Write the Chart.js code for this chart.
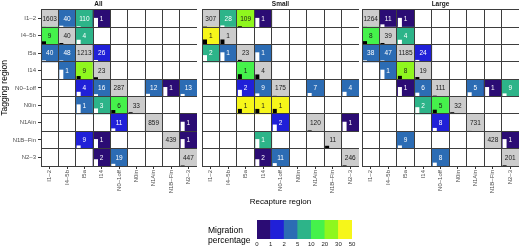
<!DOCTYPE html>
<html><head><meta charset="utf-8">
<script src="https://cdn.jsdelivr.net/npm/chart.js@4.4.1/dist/chart.umd.min.js"></script>
<style>
html,body{margin:0;padding:0;background:#fff}
body{width:520px;height:249px;position:relative;overflow:hidden;font-family:"Liberation Sans",Arial,sans-serif}
canvas{position:absolute;display:block}
#lt{position:absolute;left:208px;top:225px;font-size:8.5px;line-height:10px;color:#000;white-space:nowrap}
</style></head><body>
<canvas id="pAll" width="197" height="208" style="left:0;top:0"></canvas>
<canvas id="pSmall" width="157" height="208" style="left:202px;top:0"></canvas>
<canvas id="pLarge" width="157" height="208" style="left:362px;top:0"></canvas>
<canvas id="leg" width="112" height="35" style="left:250px;top:214px"></canvas>
<div id="lt">Migration<br>percentage</div>
<script>
// ---- data ----
const regions = ['I1–2','I4–5b','I5a','I14','N0–1off','N0in','N1Ain','N1B–Fin','N2–3'];
const panelTitles = ['All','Small','Large'];
// rows = tagging region, columns = recapture region (counts)
const countsAll = [
  [1603,40,110,1,0,0,0,0,0],
  [9,40,4,0,0,0,0,0,0],
  [40,48,1213,26,0,0,0,0,0],
  [0,1,9,23,0,0,0,0,0],
  [0,0,4,16,287,0,12,1,13],
  [0,0,1,3,6,33,0,0,0],
  [0,0,0,0,11,0,859,0,1],
  [0,0,9,1,0,0,0,439,1],
  [0,0,0,2,19,0,0,0,447]
];
const countsSmall = [
  [307,28,109,1,0,0,0,0,0],
  [1,1,0,0,0,0,0,0,0],
  [2,1,23,1,0,0,0,0,0],
  [0,0,1,4,0,0,0,0,0],
  [0,0,2,9,175,0,7,0,4],
  [0,0,1,1,1,0,0,0,0],
  [0,0,0,0,2,0,120,0,1],
  [0,0,0,1,0,0,0,11,0],
  [0,0,0,2,11,0,0,0,246]
];
const countsLarge = [
  [1264,11,1,0,0,0,0,0,0],
  [8,39,4,0,0,0,0,0,0],
  [38,47,1185,24,0,0,0,0,0],
  [0,1,8,19,0,0,0,0,0],
  [0,0,1,6,111,0,5,1,9],
  [0,0,0,2,5,32,0,0,0],
  [0,0,0,0,8,0,731,0,0],
  [0,0,9,0,0,0,0,428,1],
  [0,0,0,0,8,0,0,0,201]
];
const breaks = [0,1,2,5,10,20,30,50];
const breakLabels = breaks.map(String);
const classColors = ['#2b0c74','#2020d8','#2c6cb4','#2db489','#45f24b','#8ff71e','#f6f61a'];
const xTitle = 'Recapture region', yTitle = 'Tagging region';

// ---- styling ----
const FONT = '"Liberation Sans", Arial, sans-serif';
Chart.defaults.font.family = FONT;
Chart.defaults.color = '#4d4d4d';
const GRID = '#3d3d3d', DIAG = '#cccccc', NONE = 'rgba(0,0,0,0)';

function pctClass(p){ for (let i=0;i<breaks.length-1;i++) if (p <= breaks[i+1]) return i; return breaks.length-2; }
function cells(counts){
  const out = [];
  counts.forEach((row,r)=>{
    const tot = row.reduce((a,b)=>a+b,0);
    row.forEach((n,c)=>{ out.push({x:c+0.5, y:[r,r+1], n:n, diag:r===c, p: tot ? 100*n/tot : 0}); });
  });
  return out;
}
function cellColor(d){ if(!d || !d.n) return NONE; if(d.diag) return DIAG; return classColors[pctClass(d.p)]; }
function isLight(d){ return d.diag || pctClass(d.p) >= 4; }

const cellPlugin = {
  id:'cellText',
  afterDatasetsDraw(chart){
    const ctx = chart.ctx, ds = chart.data.datasets[0], meta = chart.getDatasetMeta(0);
    ctx.save();
    meta.data.forEach((el,i)=>{
      const d = ds.data[i]; if(!d.n) return;
      const p = el.getProps(['x','y','base','width'], true);
      const top = Math.min(p.y,p.base), bot = Math.max(p.y,p.base), left = p.x - p.width/2, h = bot-top;
      const light = isLight(d);
      const mh = Math.min(light ? 0.29 : 0.55, 0.55/Math.sqrt(d.n)) * h;
      ctx.fillStyle = light ? '#000' : '#fff';
      ctx.fillRect(left+1, bot - mh, p.width*0.23, mh);
      ctx.fillStyle = light ? '#1a1a1a' : '#fff';
      ctx.font = '6.5px ' + FONT; ctx.textAlign = 'center'; ctx.textBaseline = 'middle';
      ctx.fillText(String(d.n), p.x, (top+bot)/2 + 0.5);
    });
    ctx.restore();
  }
};

function makePanel(id, counts, title, showY, showXTitle){
  return new Chart(document.getElementById(id), {
    type:'bar',
    data:{ datasets:[{ data: cells(counts), backgroundColor: c => cellColor(c.raw), borderWidth:0, barPercentage:1, categoryPercentage:1 }]},
    options:{
      responsive:false, animation:false, events:[], layout:{padding:0},
      plugins:{ legend:{display:false}, tooltip:{enabled:false},
        title:{display:true, text:title, font:{size:6.5}, color:'#1a1a1a', padding:{top:0,bottom:2}} },
      scales:{
        x:{ type:'linear', min:0, max:regions.length, offset:false, position:'bottom',
          afterBuildTicks: s => { s.ticks = regions.map((_,i)=>({value:i+0.5})); },
          afterFit: s => { s.height = 42; s.paddingLeft = 0; s.paddingRight = 0; },
          grid:{ offset:false, drawOnChartArea:false, drawTicks:true, tickLength:3, tickColor:'#333', tickWidth:1 },
          border:{display:false},
          ticks:{ autoSkip:false, maxRotation:90, minRotation:90, padding:1, font:{size:6}, color:'#4d4d4d',
            callback: v => regions[Math.round(v-0.5)] },
          title:{ display:showXTitle, text:xTitle, font:{size:8}, color:'#000', padding:{top:0,bottom:1} } },
        xg:{ type:'linear', min:0, max:regions.length, position:'bottom', offset:false,
          afterBuildTicks: s => { const t=[]; for(let i=0;i<=regions.length;i++) t.push({value:i}); s.ticks=t; },
          afterFit: s => { s.height = 0; s.paddingLeft = 0; s.paddingRight = 0; },
          grid:{ offset:false, color:GRID, lineWidth:1, drawTicks:false, z:1 },
          border:{display:false}, ticks:{display:false} },
        y:{ type:'linear', reverse:true, min:0, max:regions.length,
          afterBuildTicks: s => { const t=[]; for(let i=0;i<=regions.length*2;i++) t.push({value:i/2}); s.ticks=t; },
          afterFit: s => { s.width = showY ? 41 : 0; s.paddingTop = 0; s.paddingBottom = 0; },
          grid:{ color: c => (c.tick && Number.isInteger(c.tick.value)) ? GRID : NONE,
                 tickColor: c => (c.tick && !Number.isInteger(c.tick.value)) ? '#333' : NONE,
                 drawTicks:showY, tickLength:3, z:1 },
          border:{display:false},
          ticks:{ display:showY, autoSkip:false, padding:2, font:{size:6}, color:'#4d4d4d',
            callback: v => Number.isInteger(v) ? '' : regions[Math.round(v-0.5)] },
          title:{ display:showY, text:yTitle, font:{size:8.5}, color:'#000', padding:0 } }
      }
    },
    plugins:[cellPlugin]
  });
}

makePanel('pAll', countsAll, panelTitles[0], true, false);
makePanel('pSmall', countsSmall, panelTitles[1], false, true);
makePanel('pLarge', countsLarge, panelTitles[2], false, false);

new Chart(document.getElementById('leg'), {
  type:'bar',
  data:{ datasets:[{ data: classColors.map((_,i)=>({x:i+0.5, y:1})), backgroundColor: classColors, borderWidth:0, barPercentage:1, categoryPercentage:1 }]},
  options:{
    responsive:false, animation:false, events:[], layout:{padding:{left:7,right:10,top:6,bottom:0}},
    plugins:{ legend:{display:false}, tooltip:{enabled:false} },
    scales:{
      x:{ type:'linear', min:0, max:classColors.length, offset:false,
        afterBuildTicks: s => { s.ticks = breaks.map((_,i)=>({value:i})); },
        afterFit: s => { s.height = 10; s.paddingLeft = 0; s.paddingRight = 0; },
        grid:{display:false, drawTicks:false, tickLength:0}, border:{display:false},
        ticks:{ autoSkip:false, maxRotation:0, minRotation:0, padding:2, font:{size:6}, color:'#1a1a1a',
          callback: v => breakLabels[Math.round(v)] } },
      y:{ type:'linear', min:0, max:1, display:false }
    }
  }
});
</script></body></html>
